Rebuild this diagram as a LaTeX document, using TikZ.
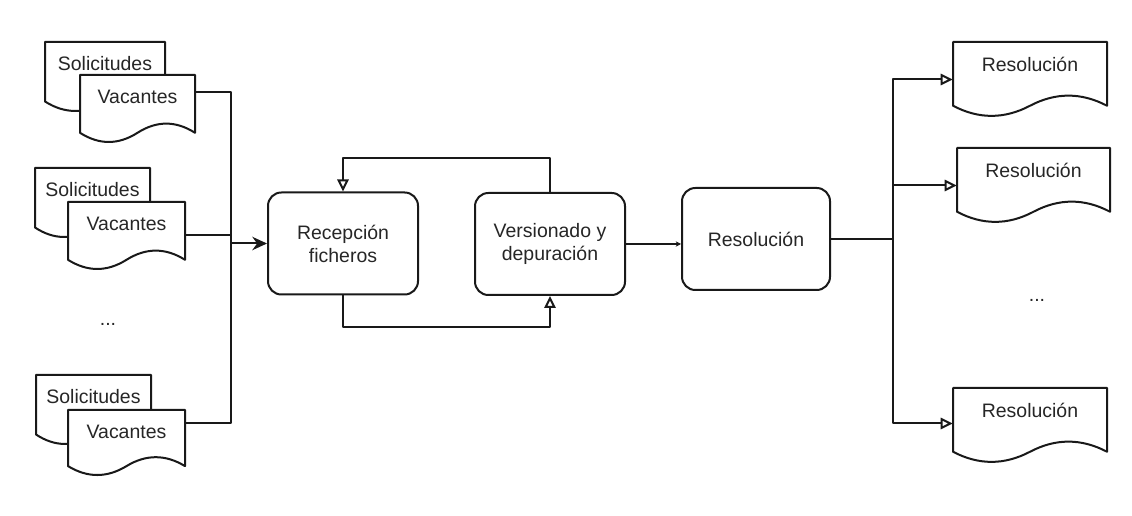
\documentclass[tikz,border=0pt]{standalone}
\usepackage{fontspec}
\setmainfont{Liberation Sans}
\usetikzlibrary{arrows.meta,calc}
\newcommand\lblfont{\fontsize{14.6pt}{17.3pt}\selectfont}
\tikzset{
  conn/.style={line width=1.5pt, draw=black!90, line join=round},
  docline/.style={line width=1.5pt, draw=black!90, fill=white, line join=round},
  proc/.style={draw=black!90, line width=1.5pt, rounded corners=10pt, fill=white,
    align=center, inner sep=0pt, font=\lblfont, text=black!85},
  lbl/.style={font=\lblfont, text=black!85, inner sep=0pt},
  hollow/.style={-{Triangle[fill=white,length=9pt,width=8.5pt]}},
  solid/.style={-{Stealth[length=11pt,width=10pt]}},
  tiny/.style={-{Stealth[length=4pt,width=4pt]}},
  box/.style={inner sep=0pt, draw=none}
}
% name, x, y, w, h, text
\newcommand\docnode[6]{%
  \draw[docline] (#2,#3) -- ({#2+#4},#3) -- ({#2+#4},{#3+0.85*#5})
    .. controls ({#2+0.8333*#4},{#3+0.67*#5}) and ({#2+0.6667*#4},{#3+0.67*#5}) .. ({#2+0.5*#4},{#3+0.85*#5})
    .. controls ({#2+0.3333*#4},{#3+1.03*#5}) and ({#2+0.1667*#4},{#3+1.03*#5}) .. (#2,{#3+0.85*#5}) -- cycle;
  \node[box, minimum width={#4*0.75pt}, minimum height={#5*0.75pt}] (#1) at ({#2+#4/2},{#3+#5/2}) {};
  \node[lbl] (#1-t) at ({#2+#4/2},{#3+22}) {#6};
}
\begin{document}
\begin{tikzpicture}[x=0.75pt,y=-0.75pt]
\useasboundingbox (0,0) rectangle (1132,516);
\fill[white] (0,0) rectangle (1132,516);

% left documents
\docnode{sol1}{45}{42}{120}{70}{Solicitudes}
\docnode{vac1}{80}{75}{115}{68}{Vacantes}
\docnode{sol2}{35}{168}{115}{70}{Solicitudes}
\docnode{vac2}{68}{202}{117}{68}{Vacantes}
\docnode{sol3}{36}{375}{115}{70}{Solicitudes}
\docnode{vac3}{68}{410}{117}{66}{Vacantes}
\node[lbl] (dotsL) at (108,324) {...};

% process boxes
\node[proc, minimum width={150*0.75pt}, minimum height={102*0.75pt}] (rec) at (343,243.5) {Recepción\\ficheros};
\node[proc, minimum width={150*0.75pt}, minimum height={102*0.75pt}] (ver) at (550,244) {Versionado y\\depuración};
\node[proc, minimum width={148*0.75pt}, minimum height={102*0.75pt}] (resb) at (756,239) {Resolución};

% right documents
\docnode{res1}{953}{42}{154}{75}{Resolución}
\docnode{res2}{957}{148}{153}{75}{Resolución}
\docnode{res3}{953}{388}{154}{75}{Resolución}
\node[lbl] (dotsR) at (1037,300) {...};

% left connectors
\coordinate (jl) at (231,243.5);
\draw[conn] ([yshift=-17*0.75pt]vac1.north east) -| (jl);
\draw[conn] ([yshift=-33*0.75pt]vac2.north east) -| (jl);
\draw[conn] ([yshift=-13*0.75pt]vac3.north east) -| (jl);
\draw[conn, solid] (jl) -- (rec.west);

% loop between rec and ver
\coordinate (lt) at (0,158);
\coordinate (lb) at (0,327);
\draw[conn, hollow] (ver.north) -- (ver.north |- lt) -- (rec.north |- lt) -- (rec.north);
\draw[conn, hollow] (rec.south) -- (rec.south |- lb) -- (ver.south |- lb) -- (ver.south);

% ver -> resolution
\draw[conn, tiny] (ver.east) -- (ver.east -| resb.west);

% right fan-out
\coordinate (jr) at (893,239);
\draw[conn] (resb.east) -- (jr);
\draw[conn, hollow] (jr) |- (res1.west);
\draw[conn, hollow] (jr) |- (res2.west);
\draw[conn, hollow] (jr) |- ([yshift=2*0.75pt]res3.west);
\end{tikzpicture}
\end{document}
